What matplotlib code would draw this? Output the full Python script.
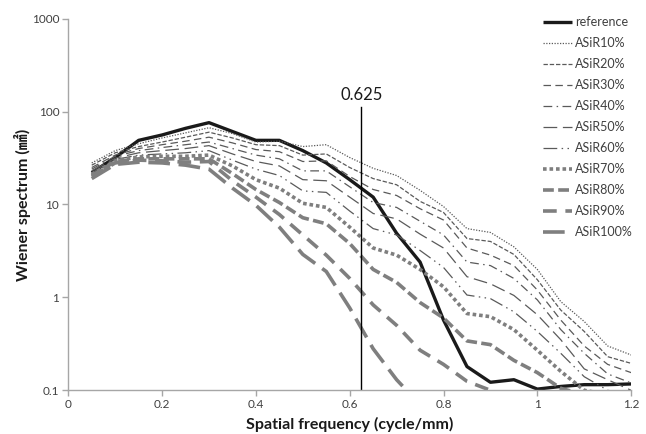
import numpy as np
import matplotlib
matplotlib.use("Agg")
import matplotlib.pyplot as plt

plt.rcParams['font.family'] = ['Lato', 'Noto Sans CJK JP', 'DejaVu Sans']

# spatial frequency (cycle/mm)
freq = [0.05, 0.1, 0.15, 0.2, 0.25, 0.3, 0.35, 0.4, 0.45, 0.5, 0.55, 0.6,
        0.65, 0.7, 0.75, 0.8, 0.85, 0.9, 0.95, 1.0, 1.05, 1.1, 1.15, 1.2]

nan = np.nan
reference = [22, 32, 49, 56, 66, 76, 61, 49, 49, 38, 28, 18.5, 12, 4.9, 2.4, 0.57,
             0.18, 0.122, 0.13, 0.103, 0.11, 0.115, 0.115, 0.117]
asir10 = [28, 38, 45, 52, 59, 67, 58, 47, 48, 42, 44, 32, 24.5, 20.5, 14.2, 9.5,
          5.5, 5.0, 3.5, 2.0, 0.9, 0.55, 0.3, 0.24]
asir20 = [26.5, 36, 42, 47, 53, 60, 52, 44, 43, 34, 35, 25, 19, 16.3, 10.8, 8.2,
          4.3, 4.0, 2.9, 1.55, 0.73, 0.43, 0.23, 0.195]
asir30 = [25, 34, 40, 44, 48, 53, 46, 39, 37, 29, 29.5, 20, 14.5, 12.5, 9, 6.8,
          3.4, 2.85, 2.2, 1.2, 0.57, 0.3, 0.19, 0.155]
asir40 = [24, 33, 38, 41, 44, 47, 40, 34, 31, 23, 23, 15.5, 10.5, 9.3, 6.6, 4.7,
          2.4, 2.2, 1.6, 0.94, 0.45, 0.25, 0.15, 0.12]
asir50 = [23, 31.5, 36, 38, 40, 43, 35, 29, 26, 18.5, 18, 12, 8, 7, 4.8, 3.4,
          1.67, 1.4, 1.05, 0.65, 0.35, 0.17, 0.13, 0.1]
asir60 = [22, 30.5, 34, 35, 36, 38, 30, 24, 20.5, 14, 13.5, 8.5, 5.5, 4.7, 3.2, 2.1,
          1.06, 0.97, 0.7, 0.43, 0.25, 0.14, 0.1, 0.09]
asir70 = [21, 29.5, 32.5, 33, 33, 34, 26, 18.5, 15, 10.3, 9.3, 5.7, 3.4, 2.85, 2.0, 1.3,
          0.67, 0.62, 0.45, 0.27, 0.16, 0.1, 0.09, 0.085]
asir80 = [20.5, 29, 31, 31, 31, 31, 21.5, 14.5, 10.5, 7.2, 6.2, 3.8, 2.0, 1.45, 0.88, 0.6,
          0.34, 0.31, 0.21, 0.155, 0.105, 0.09, nan, nan]
asir90 = [20, 28, 30, 29.5, 28.5, 29, 18, 12, 7.8, 4.7, 2.85, 1.6, 0.83, 0.5, 0.27, 0.19,
          0.125, 0.1, 0.08, nan, nan, nan, nan, nan]
asir100 = [19, 27, 28.5, 28, 26.5, 24, 15, 9.8, 5.7, 2.9, 1.9, 0.77, 0.28, 0.13, 0.07, nan,
           nan, nan, nan, nan, nan, nan, nan, nan]

labels = ['reference', 'ASiR10%', 'ASiR20%', 'ASiR30%', 'ASiR40%', 'ASiR50%',
          'ASiR60%', 'ASiR70%', 'ASiR80%', 'ASiR90%', 'ASiR100%']
series = [reference, asir10, asir20, asir30, asir40, asir50,
          asir60, asir70, asir80, asir90, asir100]

thin = '#5a5a5a'
thick = '#7f7f7f'
styles = [
    dict(color='#1a1a1a', lw=2.4, ls='-'),
    dict(color=thin, lw=0.9, ls=(0, (1, 1.2))),
    dict(color=thin, lw=0.9, ls=(0, (3.5, 1.5))),
    dict(color=thin, lw=0.9, ls=(0, (6, 3.5))),
    dict(color=thin, lw=0.9, ls=(0, (7, 3.5, 1.2, 3.5))),
    dict(color=thin, lw=0.9, ls=(0, (11, 4.5))),
    dict(color=thin, lw=0.9, ls=(0, (11, 3.5, 1.2, 3.5, 1.2, 3.5))),
    dict(color=thick, lw=2.6, ls=(0, (1, 0.8))),
    dict(color=thick, lw=2.6, ls=(0, (3, 1.2))),
    dict(color=thick, lw=2.6, ls=(0, (3.8, 2.4))),
    dict(color=thick, lw=2.6, ls=(0, (6, 2.4))),
]

fig = plt.figure(figsize=(6.46, 4.34), dpi=100)
ax = fig.add_axes([0.1057, 0.1007, 0.8713, 0.8563])

for s, lab, st in zip(series, labels, styles):
    ax.plot(freq, s, label=lab, color=st['color'], lw=st['lw'], linestyle=st['ls'],
            solid_capstyle='butt', dash_capstyle='butt')

ax.set_yscale('log')
ax.set_ylim(0.1, 1000)
ax.set_xlim(0, 1.2)
ax.set_xticks([0, 0.2, 0.4, 0.6, 0.8, 1.0, 1.2])
ax.set_xticklabels(['0', '0.2', '0.4', '0.6', '0.8', '1', '1.2'])
ax.set_yticks([0.1, 1, 10, 100, 1000])
ax.set_yticklabels(['0.1', '1', '10', '100', '1000'])
ax.yaxis.set_minor_locator(matplotlib.ticker.NullLocator())

for side in ['top', 'right']:
    ax.spines[side].set_visible(False)
for side in ['left', 'bottom']:
    ax.spines[side].set_color('#a6a6a6')
    ax.spines[side].set_linewidth(1.0)
ax.tick_params(axis='both', colors='#a6a6a6', labelcolor='#404040', labelsize=8.5,
               length=4, width=1.0, direction='out', pad=2.5)

# vertical marker at 0.625
ax.plot([0.625, 0.625], [0.1, 112], color='black', lw=1.0)
ax.text(0.625, 125, '0.625', ha='center', va='bottom', fontsize=12, color='#1a1a1a')

ax.set_xlabel('Spatial frequency (cycle/mm)', fontsize=11.5, fontweight='bold',
              color='#1a1a1a')
ax.set_ylabel('Wiener spectrum (㎟)', fontsize=11.5, fontweight='bold',
              color='#1a1a1a')
ax.xaxis.set_label_coords(0.5, -0.072)
ax.yaxis.set_label_coords(-0.066, 0.5)

leg = ax.legend(loc='upper left', bbox_to_anchor=(0.835, 1.02), frameon=False,
                fontsize=9, handlelength=2.3, handletextpad=0.25, labelspacing=0.72,
                borderaxespad=0)
for t in leg.get_texts():
    t.set_color('#404040')

fig.savefig('out.png', dpi=100)
